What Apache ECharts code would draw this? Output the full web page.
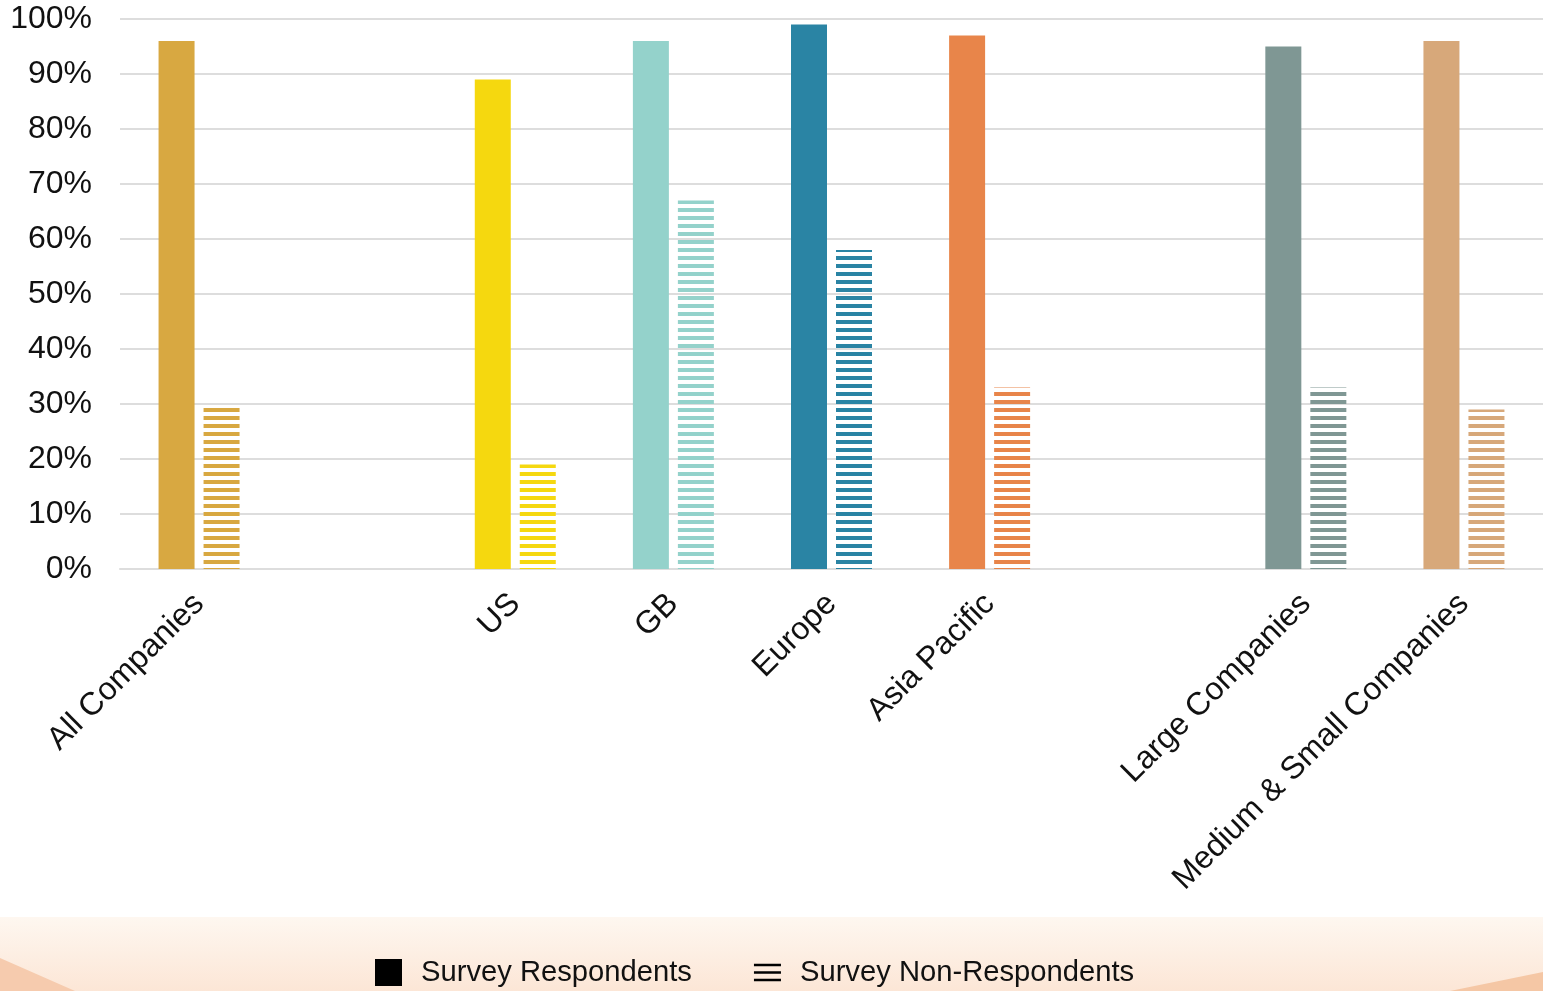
<!DOCTYPE html>
<html>
<head>
<meta charset="utf-8">
<script src="https://cdn.jsdelivr.net/npm/echarts@6/dist/echarts.min.js"></script>
<style>
html,body{margin:0;padding:0;background:#fff;}
#chart{width:1543px;height:991px;}
</style>
</head>
<body>
<div id="chart"></div>
<script>
const categories = ['All Companies', '', 'US', 'GB', 'Europe', 'Asia Pacific', '', 'Large Companies', 'Medium & Small Companies'];
const respondents = [96, null, 89, 96, 99, 97, null, 95, 96];
const nonRespondents = [30, null, 19, 67, 58, 33, null, 33, 29];
const colors = ['#D8A841', null, '#F5D80F', '#94D2CB', '#2A84A4', '#E8854A', null, '#7F9794', '#D7A87A'];
const yTicks = [0, 10, 20, 30, 40, 50, 60, 70, 80, 90, 100];
const legendNames = ['Survey Respondents', 'Survey Non-Respondents'];

const FONT = '"Liberation Sans", Arial, sans-serif';
const chart = echarts.init(document.getElementById('chart'), null, {renderer: 'canvas'});

const solidData = respondents.map((v, i) => v == null ? null : {value: v, itemStyle: {color: colors[i]}});
const hatchData = nonRespondents.map((v, i) => v == null ? null : {
  value: v,
  itemStyle: {
    color: 'rgba(0,0,0,0)',
    decal: {symbol: 'rect', symbolSize: 1, dashArrayX: [1, 0], dashArrayY: [4, 4], rotation: 0, color: colors[i], backgroundColor: 'rgba(0,0,0,0)'}
  }
});

const option = {
  backgroundColor: '#ffffff',
  animation: false,
  graphic: [
    {type: 'rect', silent: true, z: -10, shape: {x: 0, y: 917, width: 1543, height: 74},
      style: {fill: new echarts.graphic.LinearGradient(0, 0, 0, 1, [{offset: 0, color: '#FEF7F0'}, {offset: 1, color: '#FCE6D6'}])}},
    {type: 'polygon', silent: true, z: -9, shape: {points: [[0, 958], [75, 991], [0, 991]]},
      style: {fill: '#F6CBAE'}},
    {type: 'polygon', silent: true, z: -9, shape: {points: [[1450, 991], [1543, 972], [1543, 991]]},
      style: {fill: '#F5C7A5'}}
  ],
  grid: {left: 120, right: 0, top: 19, bottom: 422, containLabel: false},
  legend: {
    left: 370, top: 953,
    itemWidth: 27, itemHeight: 27, itemGap: 62,
    textStyle: {fontSize: 29.2, color: '#111', fontFamily: FONT, padding: [0, 0, 0, 14]},
    data: [
      {name: legendNames[0], icon: 'rect', itemStyle: {color: '#000', decal: 'none'}},
      {name: legendNames[1], icon: 'path://M0,0H28V2.6H0Z M0,7.7H28V10.3H0Z M0,15.4H28V18H0Z', itemStyle: {color: '#000', decal: 'none'}}
    ]
  },
  xAxis: {
    type: 'category',
    data: categories,
    axisLine: {show: true, lineStyle: {color: '#DDDDDD', width: 2}},
    axisTick: {show: false},
    axisLabel: {interval: 0, rotate: 45, fontSize: 32, color: '#111', margin: 30, fontFamily: FONT}
  },
  yAxis: {
    type: 'value',
    min: yTicks[0], max: yTicks[yTicks.length - 1], interval: 10,
    axisLine: {show: false},
    axisTick: {show: false},
    splitLine: {lineStyle: {color: '#DDDDDD', width: 2}},
    axisLabel: {formatter: '{value}%', fontSize: 32, color: '#111', margin: 28, padding: [6, 0, 0, 0], fontFamily: FONT}
  },
  series: [
    {name: legendNames[0], type: 'bar', data: solidData, barWidth: 36, barGap: '25%'},
    {name: legendNames[1], type: 'bar', data: hatchData, barWidth: 36, barGap: '25%'}
  ]
};
chart.setOption(option);
</script>
</body>
</html>
